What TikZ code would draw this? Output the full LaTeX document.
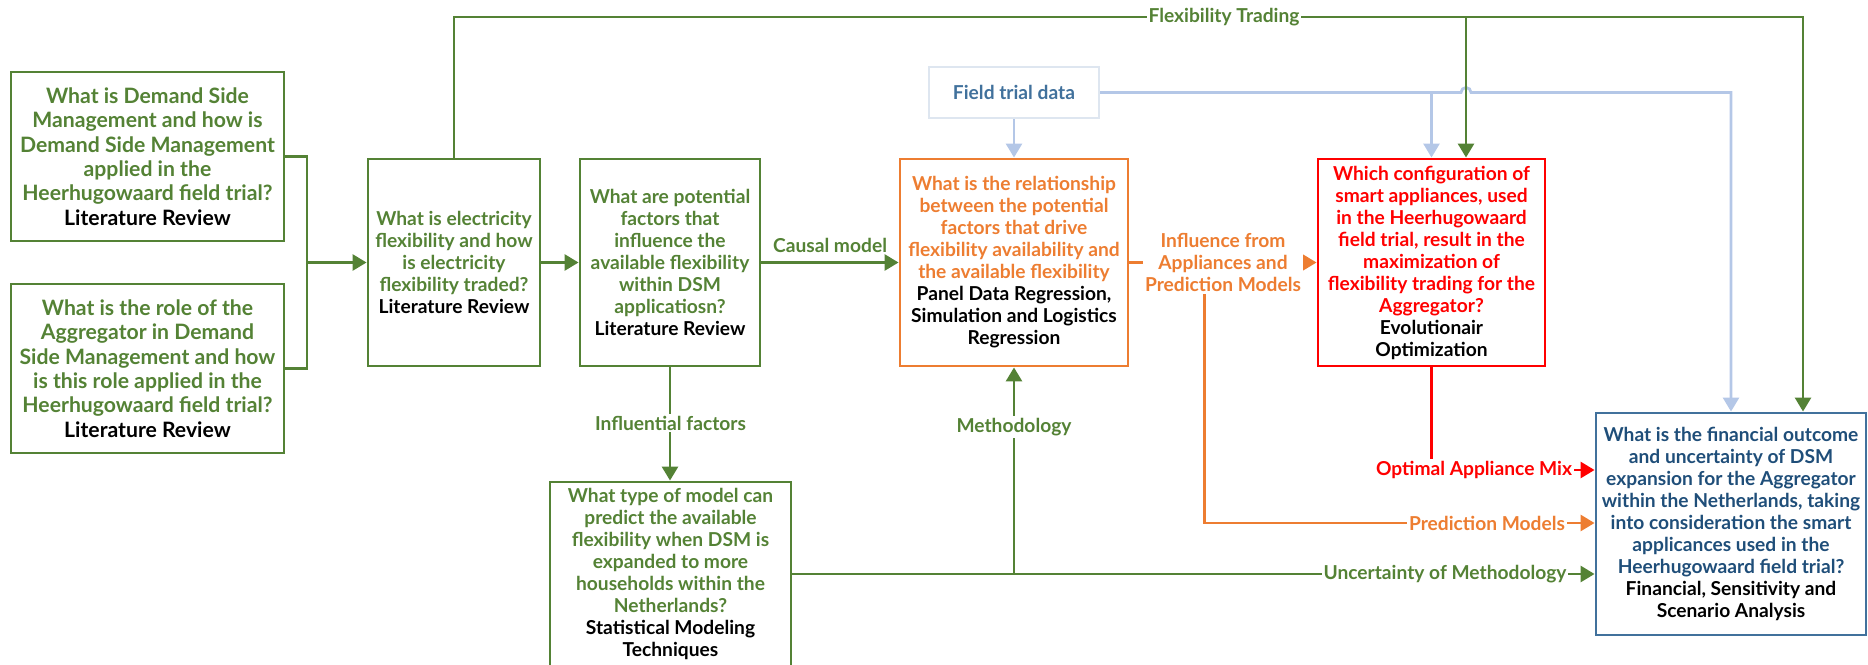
\documentclass[tikz,border=0pt]{standalone}
\usepackage{fontspec}
\setmainfont{Lato}
\usetikzlibrary{arrows.meta,positioning}
\definecolor{rqgreen}{RGB}{84,130,53}
\definecolor{rqorange}{RGB}{237,125,49}
\definecolor{rqred}{RGB}{255,0,0}
\definecolor{rqnavy}{RGB}{31,78,121}
\definecolor{rqsteel}{RGB}{65,113,156}
\definecolor{rqlight}{RGB}{180,199,231}
\definecolor{rqpale}{RGB}{222,230,240}
\newcommand{\rqmethod}[1]{\textcolor{black}{#1}}

\begin{document}
\begin{tikzpicture}[x=0.5pt,y=-0.5pt,
  >={Triangle[length=7pt,width=8pt]},
  qbox/.style={draw, line width=1.45pt, align=center, inner sep=1pt, font=\bfseries\fontsize{9.6}{11}\selectfont},
  bigq/.style={qbox, font=\bfseries\fontsize{10.6}{12.15}\selectfont},
  lbl/.style={fill=white, inner sep=1pt, align=center, font=\bfseries\fontsize{9.6}{11}\selectfont},
  link/.style={line width=1.4pt}]
\useasboundingbox (0,0) rectangle (1868,664);
% Literature questions
\node[bigq, draw=rqgreen, text=rqgreen, minimum width=136.5pt, minimum height=84.5pt] (dsm) at (147.5,156.5) {What is Demand Side\\Management and how is\\Demand Side Management\\applied in the\\Heerhugowaard field trial?\\\rqmethod{Literature Review}};
\node[bigq, draw=rqgreen, text=rqgreen, minimum width=136.5pt, minimum height=84.5pt] (role) at (147.5,368.5) {What is the role of the\\Aggregator in Demand\\Side Management and how\\is this role applied in the\\Heerhugowaard field trial?\\\rqmethod{Literature Review}};
\node[qbox, draw=rqgreen, text=rqgreen, minimum width=86pt, minimum height=103.5pt] (elec) at (454,262.5) {What is electricity\\flexibility and how\\is electricity\\flexibility traded?\\\rqmethod{Literature Review}};
\node[qbox, draw=rqgreen, text=rqgreen, minimum width=90pt, minimum height=103.5pt] (factors) at (670,262.5) {What are potential\\factors that\\influence the\\available flexibility\\within DSM\\applicatiosn?\\\rqmethod{Literature Review}};
% Analysis questions
\node[qbox, draw=rqorange, text=rqorange, minimum width=114pt, minimum height=103.5pt] (relation) at (1014,262.5) {What is the relationship\\between the potential\\factors that drive\\flexibility availability and\\the available flexibility\\\rqmethod{Panel Data Regression,}\\\rqmethod{Simulation and Logistics}\\\rqmethod{Regression}};
\node[qbox, draw=rqpale, text=rqsteel, minimum width=85pt, minimum height=25.5pt] (field) at (1014,92.5) {Field trial data};
\node[qbox, draw=rqred, text=rqred, minimum width=113.5pt, minimum height=103.5pt] (config) at (1431.5,262.5) {Which configuration of\\smart appliances, used\\in the Heerhugowaard\\field trial, result in the\\maximization of\\flexibility trading for the\\Aggregator?\\\rqmethod{Evolutionair}\\\rqmethod{Optimization}};
\node[qbox, draw=rqsteel, text=rqnavy, minimum width=135pt, minimum height=111pt] (gfin) at (1731,524) {What is the financial outcome\\and uncertainty of DSM\\expansion for the Aggregator\\within the Netherlands, taking\\into consideration the smart\\applicances used in the\\Heerhugowaard field trial?\\\rqmethod{Financial, Sensitivity and}\\\rqmethod{Scenario Analysis}};
\node[qbox, draw=rqgreen, text=rqgreen, minimum width=120.5pt, minimum height=92pt] (model) at (670.5,574) {What type of model can\\predict the available\\flexibility when DSM is\\expanded to more\\households within the\\Netherlands?\\\rqmethod{Statistical Modeling}\\\rqmethod{Techniques}};
% Bend points
\coordinate (jAB) at (307,262.5);
\coordinate (topF) at (1466,17);
\coordinate (topG) at (1803,17);
\coordinate (bendPM) at (1204.5,523);
\coordinate (mixY) at (0,470);
% Green links
\draw[link, rqgreen] (dsm.east) -| (jAB);
\draw[link, rqgreen] (role.east) -| (jAB);
\draw[link, rqgreen, ->] (jAB) -- (elec.west);
\draw[link, rqgreen, ->] (elec) -- (factors);
\draw[link, rqgreen, ->] (factors) -- node[above=3pt, lbl, fill=none, text=rqgreen] (causal) {Causal model} (relation);
\draw[link, rqgreen, ->] (factors.south) -- (factors.south |- model.north);
\draw[link, rqgreen, ->] (model.east) -- (gfin.west |- model.east);
\draw[link, rqgreen, ->] (relation.south |- model.east) -- (relation.south);
% Field trial data
\draw[link, rqlight, ->] (field) -- (relation);
\draw[link, rqlight, ->] (field.east) -| (config.north);
\draw[link, rqlight, ->] (field.east) -- (1461,92.5) arc[start angle=180, end angle=360, radius=5] -| (gfin.north);
% Flexibility Trading
\draw[link, rqgreen, ->] (elec.north) |- (topG) -- (gfin.north -| topG);
\draw[link, rqgreen, ->] (topF) -- (config.north -| topF);
% Orange and red links
\draw[link, rqorange, ->] (relation.east) -| (bendPM) -- (gfin.west |- bendPM);
\draw[link, rqorange, ->] (relation) -- (config);
\draw[link, rqred, ->] (config.south) |- (gfin.west |- mixY);
% Labels
\node[lbl, text=rqgreen] (trading) at (1224,17) {Flexibility Trading};
\node[lbl, text=rqorange] (influence) at (1223,262.5) {Influence from\\Appliances and\\Prediction Models};
\node[lbl, text=rqorange] (predm) at (1487,523) {Prediction Models};
\node[lbl, text=rqred] (mix) at (1474,470) {Optimal Appliance Mix};
\node[lbl, text=rqgreen] (infl) at (670.5,423) {Influential factors};
\node[lbl, text=rqgreen] (meth) at (1014,427) {Methodology};
\node[lbl, text=rqgreen] (unc) at (1445,574) {Uncertainty of Methodology};
\end{tikzpicture}
\end{document}
